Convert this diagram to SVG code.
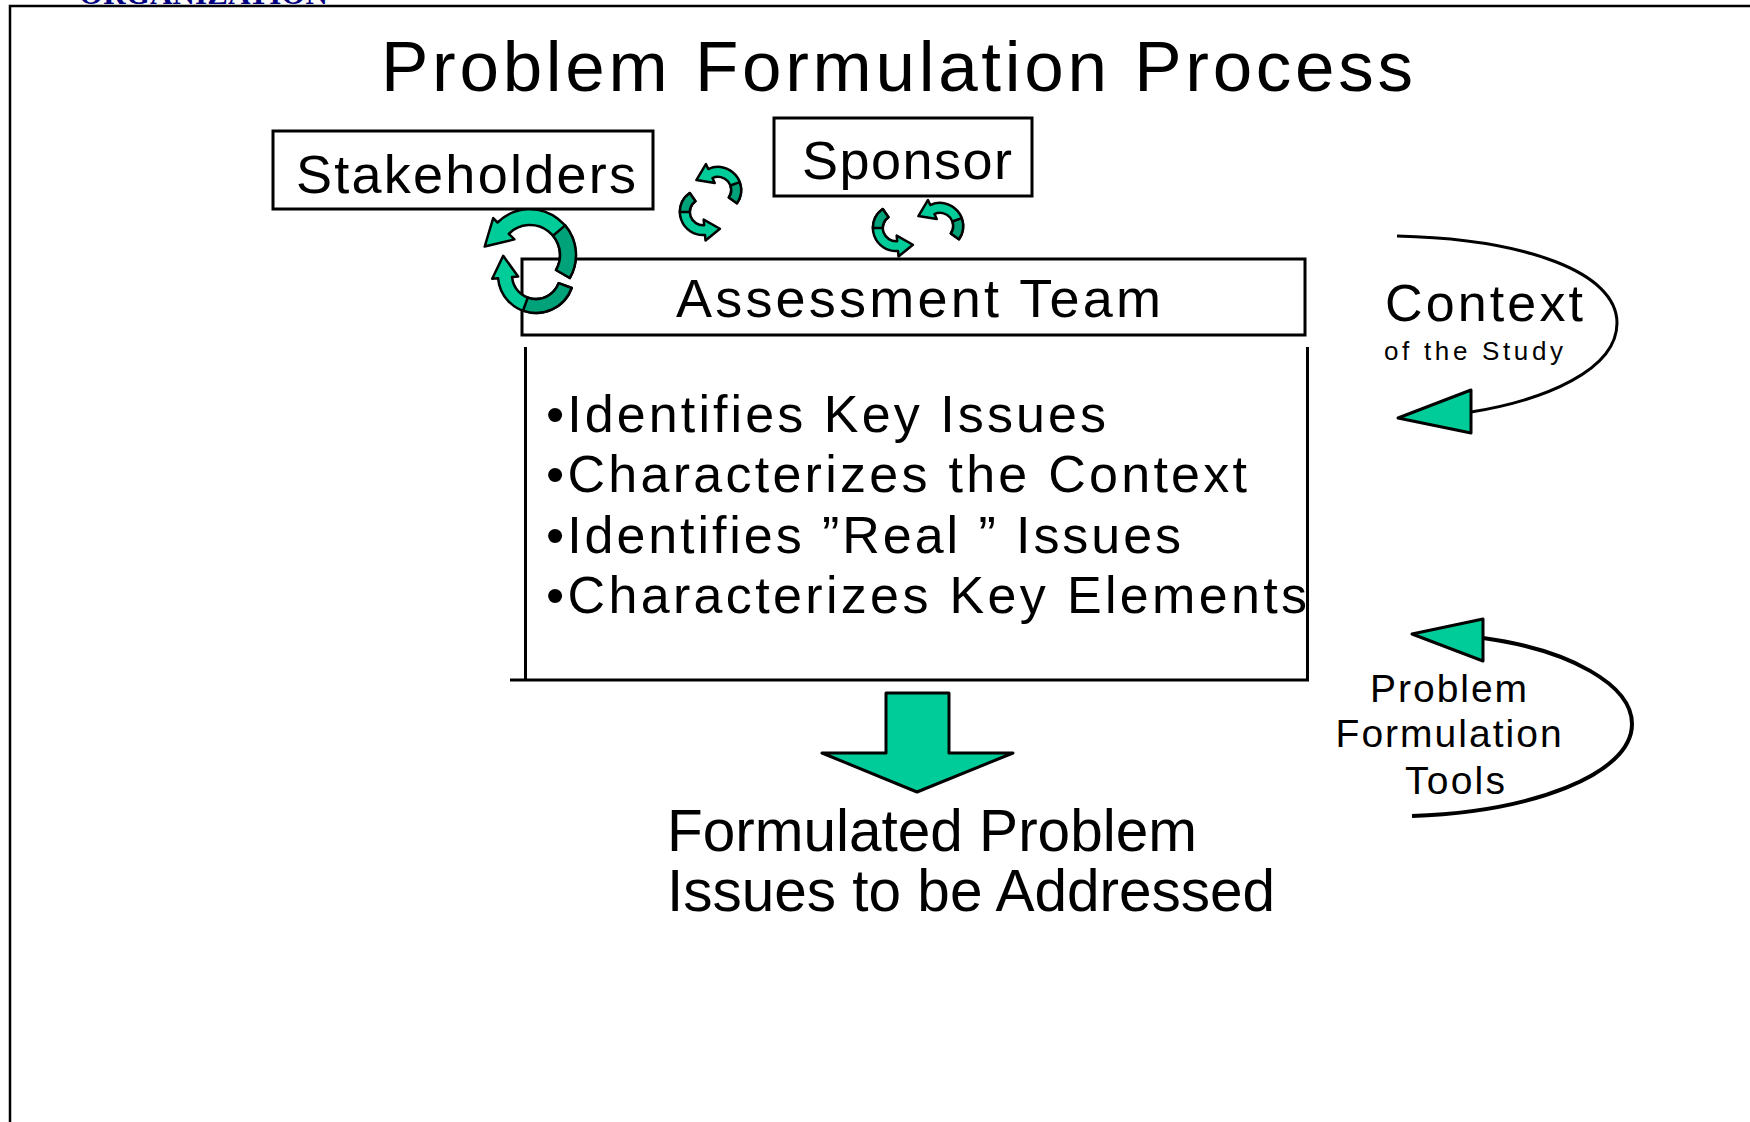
<svg xmlns="http://www.w3.org/2000/svg" xmlns:xlink="http://www.w3.org/1999/xlink" width="1750" height="1122" viewBox="0 0 1750 1122">
<style>
.t{font-family:"Liberation Sans",Arial,sans-serif;fill:#000}
.box{fill:#fff;stroke:#000;stroke-width:3}
.ln{fill:none;stroke:#000;stroke-width:3}
.lt{fill:#00CC99;stroke:#000;stroke-width:2.5;stroke-linejoin:round;vector-effect:non-scaling-stroke}
.dk{fill:#00A27A;stroke:#000;stroke-width:2.5;stroke-linejoin:round;vector-effect:non-scaling-stroke}
.grn{fill:#00CC99;stroke:#000;stroke-width:3;stroke-linejoin:round}
</style>
<defs>
<g id="sa">
<path class="lt" d="M17.2,12.05 A21 21 0 0 0 -8.88,-19.03 L-11,-23.56 L-19.66,-9.03 L-2.96,-6.34 L-5.07,-10.87 A12 12 0 0 1 9.83,6.88 Z"/>
<path class="dk" d="M17.2,12.05 A21 21 0 0 0 19.74,-7.18 L11.28,-4.1 A12 12 0 0 1 9.83,6.88 Z"/>
</g>
</defs>
<rect width="1750" height="1122" fill="#fff"/>
<g id="frame">
<text x="79" y="3.5" font-family="'Liberation Serif',serif" font-weight="bold" font-size="31" fill="#000080" textLength="249">ORGANIZATION</text>
<path class="ln" d="M10,1122 V6 H1750" style="stroke-width:2.5"/>
</g>
<g id="title">
<text class="t" x="381" y="91" font-size="71" textLength="1032" lengthAdjust="spacing">Problem Formulation Process</text>
</g>
<g id="stakeholders">
<rect class="box" x="273" y="131" width="380" height="78"/>
<text class="t" x="296" y="193" font-size="54" textLength="340">Stakeholders</text>
</g>
<g id="sponsor">
<rect class="box" x="774" y="118" width="258" height="78"/>
<text class="t" x="802" y="179" font-size="54" textLength="210">Sponsor</text>
</g>
<g id="assessment-team">
<rect class="box" x="522" y="259" width="783" height="76"/>
<text class="t" x="676" y="317" font-size="54" textLength="485">Assessment Team</text>
</g>
<g id="activities">
<path class="ln" d="M525.5,347 V680 M1307.5,347 V680 M510,680 H1309"/>
<text class="t" font-size="52">
<tspan x="546" y="432" textLength="560">•Identifies Key Issues</tspan>
<tspan x="546" y="492" textLength="701">•Characterizes the Context</tspan>
<tspan x="546" y="552.5" textLength="635">•Identifies ”Real ” Issues</tspan>
<tspan x="546" y="613" textLength="761">•Characterizes Key Elements</tspan>
</text>
</g>
<g id="result">
<text class="t" font-size="58.5">
<tspan x="667" y="851">Formulated Problem</tspan>
<tspan x="667" y="911">Issues to be Addressed</tspan>
</text>
</g>
<g id="context">
<text class="t" x="1385" y="321" font-size="52" textLength="198">Context</text>
<text class="t" x="1384" y="360" font-size="26" textLength="179">of the Study</text>
</g>
<g id="tools">
<text class="t" font-size="39" text-anchor="middle">
<tspan x="1455" y="702" textLength="157">Problem</tspan>
<tspan x="1455" y="747" textLength="226">Formulation</tspan>
<tspan x="1455" y="794" textLength="100">Tools</tspan>
</text>
</g>
<g id="connectors">
<g id="cycle-stakeholders-team">
<path class="lt" d="M571.7,288 A38 38 0 0 1 498.1,278.3 L492.2,278.8 L503.2,255.8 L518.1,276.6 L512.1,277.1 A24 24 0 0 0 558.6,283.2 Z"/>
<path class="dk" d="M571.7,288 A38 38 0 0 1 523,310.7 L527.8,297.6 A24 24 0 0 0 558.6,283.2 Z"/>
<path class="lt" d="M569.8,278 A46 46 0 0 0 497.5,222.5 L493.2,218.2 L484.7,246.5 L514.4,239.4 L508.8,233.8 A30 30 0 0 1 556,270 Z"/>
<path class="dk" d="M569.8,278 A46 46 0 0 0 565.2,225.4 L553,235.7 A30 30 0 0 1 556,270 Z"/>
</g>
<g id="cycle-stakeholders-sponsor">
<use xlink:href="#sa" transform="translate(718,190) scale(1.1)"/>
<use xlink:href="#sa" transform="translate(703,212) rotate(-160) scale(1.1)"/>
</g>
<g id="cycle-sponsor-team">
<use xlink:href="#sa" transform="translate(896,228) rotate(-160) scale(1.1)"/>
<use xlink:href="#sa" transform="translate(940,226) scale(1.1)"/>
</g>
<polygon id="result-arrow" class="grn" points="886,693 949,693 949,753 1013,753 917,792 822,753 886,753"/>
<g id="context-loop">
<path class="ln" d="M1397,236 C1525,239 1617,272 1617,323 C1617,370 1545,400 1471,412"/>
<polygon class="grn" points="1398,418 1471,390 1471,433"/>
</g>
<g id="tools-loop">
<path class="ln" style="stroke-width:4" d="M1483,638 C1570,650 1632,685 1632,724 C1632,775 1530,812 1412,816"/>
<polygon class="grn" points="1412,634 1483,619 1483,661"/>
</g>
</g>
</svg>
